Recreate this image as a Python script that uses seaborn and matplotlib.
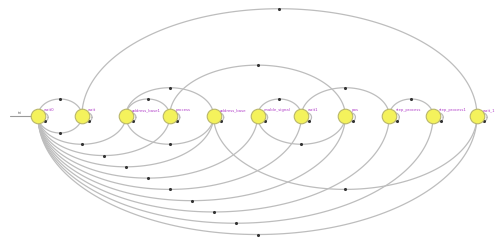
import numpy as np
import pandas as pd
import seaborn as sns
import matplotlib.pyplot as plt

# states, left to right
states = ["wait0", "wait", "address_base1", "process", "address_base",
          "enable_signal", "wait1", "pos", "step_process", "step_process1", "wait_1"]
# transitions drawn above the row (source, target)
upper_src = [0, 1, 2, 2, 3, 5, 6, 8]
upper_dst = [1, 10, 3, 4, 7, 6, 8, 9]
# transitions drawn below the row
lower_src = [0, 0, 0, 0, 0, 0, 0, 0, 0, 0, 2, 5, 4]
lower_dst = [1, 2, 3, 4, 5, 6, 7, 8, 9, 10, 4, 7, 10]
start_label = "ini"

sns.set_style("white")

fig = plt.figure(figsize=(4.95, 2.4), dpi=100)
ax = fig.add_axes([0, 0, 1, 1])

def arc_points(a, b, side, n=120):
    t = np.linspace(0, np.pi, n)
    cx = (a + b) / 2
    w = abs(b - a) / 2
    h = 0.13 + 0.257 * abs(b - a)
    return cx - w * np.cos(t), side * h * np.sin(t), cx, side * h

rows = []
marks = []
k = 0
for s, d in zip(upper_src, upper_dst):
    xs, ys, mx, my = arc_points(s, d, 1)
    rows += [(k, x, y) for x, y in zip(xs, ys)]
    marks.append((mx, my))
    k += 1
for s, d in zip(lower_src, lower_dst):
    xs, ys, mx, my = arc_points(s, d, -1)
    rows += [(k, x, y) for x, y in zip(xs, ys)]
    marks.append((mx, my))
    k += 1
# self loops
for i in range(len(states)):
    t = np.linspace(0, 2 * np.pi, 40)
    xs = i + 0.13 + 0.1 * np.cos(t)
    ys = -0.03 + 0.1 * np.sin(t)
    rows += [(k, x, y) for x, y in zip(xs, ys)]
    marks.append((i + 0.17, -0.11))
    k += 1

edges = pd.DataFrame(rows, columns=["edge", "x", "y"])
sns.lineplot(data=edges, x="x", y="y", units="edge", estimator=None, sort=False,
             color="#bdbdbd", linewidth=0.9, ax=ax, zorder=1)

mk = pd.DataFrame(marks, columns=["x", "y"])
sns.scatterplot(data=mk, x="x", y="y", color="#333333", s=5, marker="o",
                linewidth=0, ax=ax, zorder=2)

# start arrow
ax.plot([-0.64, -0.1], [0, 0], color="#9a9a9a", lw=0.8, zorder=1)
ax.text(-0.47, 0.05, start_label, fontsize=2.6, color="#555555")

nodes = pd.DataFrame({"x": np.arange(len(states)), "y": np.zeros(len(states))})
sns.scatterplot(data=nodes, x="x", y="y", s=110, color="#f4f25c",
                edgecolor="#b9b66a", linewidth=0.8, ax=ax, zorder=3)
for i, name in enumerate(states):
    ax.text(i + 0.14, 0.11, name, fontsize=2.8, color="#b03cc8", zorder=4)

ax.set_xlim(-0.866, 10.41)
ax.set_ylim(-2.825, 2.642)
ax.set_axis_off()

plt.savefig("out.png", dpi=100)
